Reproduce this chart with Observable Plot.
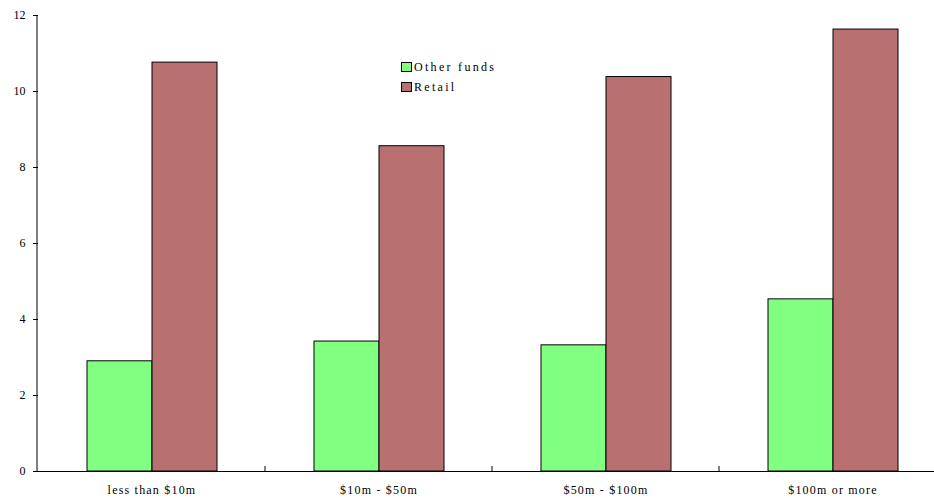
<!DOCTYPE html>
<html><head><meta charset="utf-8">
<script src="https://cdn.jsdelivr.net/npm/d3@7"></script>
<script src="https://cdn.jsdelivr.net/npm/@observablehq/plot@0.6"></script>
<style>
html,body{margin:0;padding:0;overflow:hidden;background:#fff}
#wrap{position:relative;width:934px;height:498px;overflow:hidden}
#chart svg{display:block;max-width:none !important;height:498px !important;width:946px !important}
.legend{position:absolute;left:401px;top:57px;font-family:"Liberation Serif",serif;font-size:12px;letter-spacing:2.3px;color:#000}
.item{display:flex;align-items:center;height:20px}
.sw{width:9px;height:8px;border:1px solid #000;margin-right:2px}
</style></head><body>
<div id="wrap"><div id="chart"></div><div class="legend" id="legend"></div></div>
<script>
const categories = ["less than $10m", "$10m - $50m", "$50m - $100m", "$100m or more"];
const series = ["Other funds", "Retail"];
const otherFunds = [2.90, 3.42, 3.32, 4.53];
const retail = [10.76, 8.56, 10.38, 11.63];
const yTicks = [0, 2, 4, 6, 8, 10, 12];
const colors = ["#80ff80", "#b87070"];

const data = categories.flatMap((c, i) => [
  {category: c, series: series[0], value: otherFunds[i]},
  {category: c, series: series[1], value: retail[i]}
]);

const plot = Plot.plot({
  width: 946, height: 498,
  marginLeft: 37, marginRight: 0, marginTop: 15, marginBottom: 27,
  style: {fontFamily: '"Liberation Serif", serif', fontSize: "12px", background: "#fff", color: "#000", overflow: "visible", maxWidth: "none"},
  fx: {domain: categories, padding: 0, label: null},
  x: {domain: series, paddingInner: 0, paddingOuter: 0.735, axis: null, label: null},
  y: {domain: [0, 12], label: null},
  color: {domain: series, range: colors},
  marks: [
    Plot.barY(data, {fx: "category", x: "series", y: "value", fill: "series", stroke: "#000", strokeWidth: 1}),
    Plot.ruleY([0], {stroke: "#000", strokeWidth: 1}),
    Plot.axisY({ticks: yTicks, tickSize: 5, tickPadding: 8, label: null, stroke: "#000"}),
    Plot.axisFx({anchor: "bottom", tickSize: 0, tickPadding: 14, label: null})
  ]
});

document.getElementById("chart").appendChild(plot);

const svg = d3.select(plot);
svg.selectAll('g[aria-label="fx-axis tick label"] text').style("letter-spacing", "1.2px");
const fx = plot.scale("fx");
const y = plot.scale("y");
const y0 = y.apply(0), y1 = y.apply(12);
const x0 = fx.range[0];
svg.append("line").attr("x1", x0).attr("x2", x0).attr("y1", y0).attr("y2", y1).attr("stroke", "#000");
categories.slice(0, -1).forEach(c => {
  const xb = fx.apply(c) + fx.bandwidth;
  svg.append("line").attr("x1", xb).attr("x2", xb).attr("y1", y0).attr("y2", y0 - 5).attr("stroke", "#000");
});

const legend = d3.select("#legend");
series.forEach((s, i) => {
  const item = legend.append("div").attr("class", "item");
  item.append("div").attr("class", "sw").style("background", colors[i]);
  item.append("span").text(s);
});
</script>
</body></html>
